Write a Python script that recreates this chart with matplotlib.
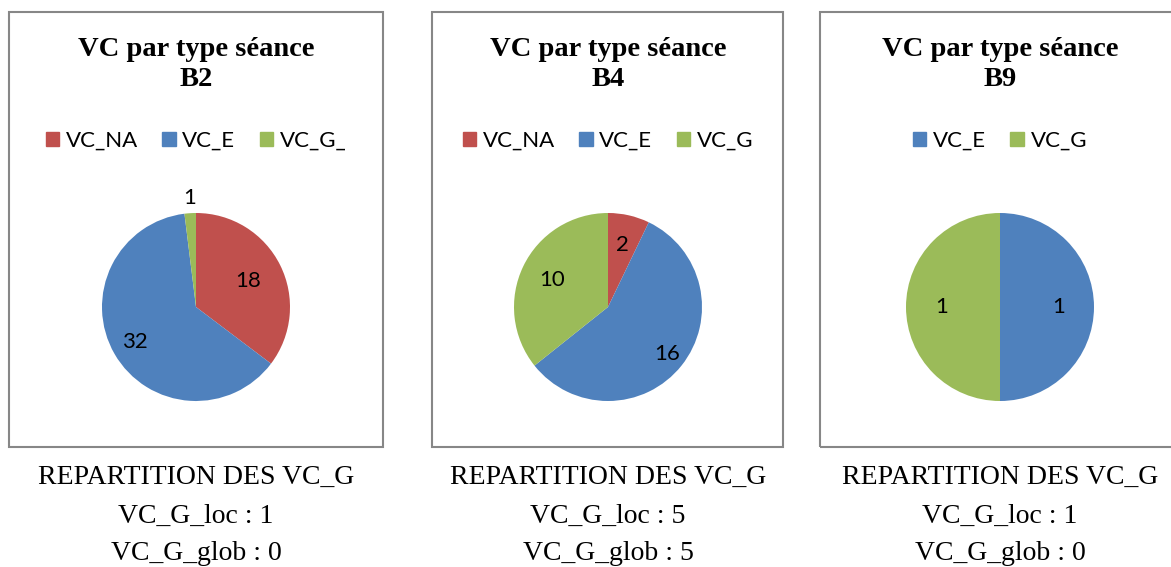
import numpy as np
import matplotlib.pyplot as plt
from matplotlib.patches import Rectangle, Patch

# Donnees
titres = ["B2", "B4", "B9"]
categories = [["VC_NA", "VC_E", "VC_G_"], ["VC_NA", "VC_E", "VC_G"], ["VC_E", "VC_G"]]
valeurs = [[18, 32, 1], [2, 16, 10], [1, 1]]
vc_g_loc = [1, 5, 1]
vc_g_glob = [0, 5, 0]
# distance radiale des etiquettes
dist_labels = [[0.62, 0.75, 1.16], [0.68, 0.8, 0.66], [0.62, 0.62]]

couleurs = {"VC_NA": "#C0504D", "VC_E": "#4F81BD", "VC_G": "#9BBB59", "VC_G_": "#9BBB59"}

W, H = 1171, 567
fig = plt.figure(figsize=(W / 100, H / 100), dpi=100)

def fx(x):
    return x / W

def fy(y):
    return 1 - y / H

boites = [(9, 383), (432, 783), (820, 1220)]
centres = [196, 608, 1000]
cy = 307
r = 94
lim = 1.3

for i in range(3):
    x0, x1 = boites[i]
    fig.patches.append(Rectangle((fx(x0), fy(447)), fx(x1 - x0), (447 - 12) / H,
                                 transform=fig.transFigure, fill=False,
                                 edgecolor="#878787", linewidth=1.5))
    cx = centres[i]
    fig.text(fx(cx), fy(49), "VC par type séance", ha="center", va="center",
             family="Liberation Serif", weight="bold", fontsize=20.5)
    fig.text(fx(cx), fy(80), titres[i], ha="center", va="center",
             family="Liberation Serif", weight="bold", fontsize=20.5)

    size = 2 * lim * r
    ax = fig.add_axes([fx(cx - size / 2), fy(cy + size / 2), size / W, size / H])
    cols = [couleurs[c] for c in categories[i]]
    wedges, _ = ax.pie(valeurs[i], colors=cols, startangle=90, counterclock=False,
                       wedgeprops=dict(linewidth=0))
    for w, v, d in zip(wedges, valeurs[i], dist_labels[i]):
        ang = np.deg2rad((w.theta1 + w.theta2) / 2)
        ax.text(d * np.cos(ang), d * np.sin(ang), str(v), ha="center", va="center",
                family="Lato", fontsize=16)
    ax.set_xlim(-lim, lim)
    ax.set_ylim(-lim, lim)
    ax.set_aspect("equal")
    ax.axis("off")

    handles = [Patch(color=couleurs[c]) for c in categories[i]]
    fig.legend(handles, categories[i], loc="center", bbox_to_anchor=(fx(cx), fy(141)),
               ncol=len(handles), frameon=False, handlelength=0.6, handleheight=0.6,
               handletextpad=0.3, columnspacing=1.1, prop=dict(family="Lato", size=16))

    fig.text(fx(cx), fy(477), "REPARTITION DES VC_G", ha="center", va="center",
             family="Liberation Serif", fontsize=20)
    fig.text(fx(cx), fy(516), f"VC_G_loc : {vc_g_loc[i]}", ha="center", va="center",
             family="Liberation Serif", fontsize=20)
    fig.text(fx(cx), fy(554), f"VC_G_glob : {vc_g_glob[i]}", ha="center", va="center",
             family="Liberation Serif", fontsize=20)

fig.savefig("out.png", dpi=100)
